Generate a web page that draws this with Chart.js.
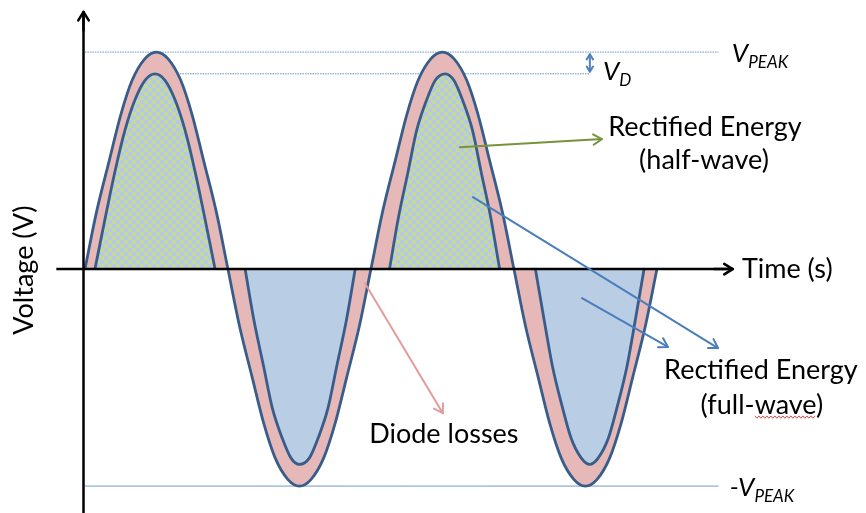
<!DOCTYPE html>
<html lang="en">
<head>
<meta charset="UTF-8">
<title>Half-wave and full-wave rectification</title>
<script src="https://cdn.jsdelivr.net/npm/chart.js@4.4.0/dist/chart.umd.min.js"></script>
<style>
  body { margin: 0; background: #fff; }
</style>
</head>
<body>
<canvas id="myChart" width="866" height="513"></canvas>
<script>
// time in half-periods, voltage as a fraction of V_PEAK
const outerTime = [0, 0.08, 0.17, 0.25, 0.33, 0.42, 0.5, 0.58, 0.67, 0.75, 0.83, 0.92,
  1, 1.08, 1.17, 1.25, 1.33, 1.42, 1.5, 1.58, 1.67, 1.75, 1.83, 1.92,
  2, 2.08, 2.17, 2.25, 2.33, 2.42, 2.5, 2.58, 2.67, 2.75, 2.83, 2.92,
  3, 3.08, 3.17, 3.25, 3.33, 3.42, 3.5, 3.58, 3.67, 3.75, 3.83, 3.92, 4];
const outerVolt = [0, 0.26, 0.5, 0.71, 0.87, 0.97, 1, 0.97, 0.87, 0.71, 0.5, 0.26,
  0, -0.26, -0.5, -0.71, -0.87, -0.97, -1, -0.97, -0.87, -0.71, -0.5, -0.26,
  0, 0.26, 0.5, 0.71, 0.87, 0.97, 1, 0.97, 0.87, 0.71, 0.5, 0.26,
  0, -0.26, -0.5, -0.71, -0.87, -0.97, -1, -0.97, -0.87, -0.71, -0.5, -0.26, 0];

// rectified pulses (after the diode drop)
const pos1Time = [0.07, 0.14, 0.21, 0.28, 0.35, 0.42, 0.49, 0.56, 0.63, 0.70, 0.77, 0.84, 0.91];
const neg1Time = [1.12, 1.18, 1.25, 1.31, 1.38, 1.44, 1.50, 1.57, 1.63, 1.70, 1.76, 1.83, 1.89];
const pos2Time = [2.13, 2.19, 2.26, 2.32, 2.39, 2.45, 2.52, 2.58, 2.64, 2.71, 2.77, 2.84, 2.90];
const neg2Time = [3.15, 3.21, 3.27, 3.34, 3.40, 3.47, 3.53, 3.59, 3.66, 3.72, 3.79, 3.85, 3.91];
const posPulse = [0, 0.23, 0.45, 0.64, 0.78, 0.87, 0.90, 0.87, 0.78, 0.64, 0.45, 0.23, 0];
const negPulse = [0, -0.23, -0.45, -0.64, -0.78, -0.87, -0.90, -0.87, -0.78, -0.64, -0.45, -0.23, 0];

const vPeak = 1;
const vAfterDrop = 0.9;

const stroke = '#385d8a';
const pink = '#e6b9b8';
const lightBlue = '#b9cde5';

function pts(ts, vs) { return ts.map((t, i) => ({x: t, y: vs[i]})); }

// green with small blue dots, like the office fill
function dotPattern() {
  const c = document.createElement('canvas');
  c.width = 8; c.height = 8;
  const g = c.getContext('2d');
  g.fillStyle = '#c6d99c';
  g.fillRect(0, 0, 8, 8);
  g.fillStyle = '#b4c8e8';
  [[2, 2], [6, 6]].forEach(p => { g.beginPath(); g.arc(p[0], p[1], 2.2, 0, Math.PI * 2); g.fill(); });
  return g.createPattern(c, 'repeat');
}
const dots = dotPattern();

function pulse(ts, vs, fillStyle) {
  return { data: pts(ts, vs), borderColor: stroke, borderWidth: 2.8, backgroundColor: fillStyle,
    fill: 'origin', order: 1, cubicInterpolationMode: 'monotone' };
}

function head(ctx, x, y, ang, size) {
  ctx.beginPath();
  ctx.moveTo(x - size * Math.cos(ang - 0.55), y - size * Math.sin(ang - 0.55));
  ctx.lineTo(x, y);
  ctx.lineTo(x - size * Math.cos(ang + 0.55), y - size * Math.sin(ang + 0.55));
  ctx.stroke();
}
function arrow(ctx, x1, y1, x2, y2, color, w, size, both) {
  ctx.save();
  ctx.strokeStyle = color; ctx.lineWidth = w; ctx.lineCap = 'round'; ctx.lineJoin = 'round';
  ctx.beginPath(); ctx.moveTo(x1, y1); ctx.lineTo(x2, y2); ctx.stroke();
  const a = Math.atan2(y2 - y1, x2 - x1);
  head(ctx, x2, y2, a, size);
  if (both) head(ctx, x1, y1, a + Math.PI, size);
  ctx.restore();
}
function subLabel(ctx, pre, main, sub, x, y) {
  ctx.save();
  ctx.fillStyle = '#000';
  ctx.textAlign = 'left'; ctx.textBaseline = 'alphabetic';
  ctx.font = 'italic 26px Lato';
  const txt = pre + main;
  ctx.fillText(txt, x, y);
  const w = ctx.measureText(txt).width;
  ctx.font = 'italic 17px Lato';
  ctx.fillText(sub, x + w, y + 6);
  ctx.restore();
}

const overlay = {
  id: 'overlay',
  beforeDatasetsDraw(chart) {
    const {ctx, scales: {x, y}} = chart;
    ctx.save();
    ctx.strokeStyle = 'rgba(79,129,189,0.85)';
    ctx.lineWidth = 1;
    ctx.setLineDash([1.5, 1]);
    ctx.beginPath();
    ctx.moveTo(x.getPixelForValue(0), y.getPixelForValue(vPeak));
    ctx.lineTo(x.getPixelForValue(4.43), y.getPixelForValue(vPeak));
    ctx.moveTo(x.getPixelForValue(0.49), y.getPixelForValue(vAfterDrop));
    ctx.lineTo(x.getPixelForValue(3.53), y.getPixelForValue(vAfterDrop));
    ctx.stroke();
    ctx.setLineDash([]);
    ctx.strokeStyle = 'rgba(79,129,189,0.8)';
    ctx.beginPath();
    ctx.moveTo(x.getPixelForValue(0), y.getPixelForValue(-vPeak));
    ctx.lineTo(x.getPixelForValue(4.43), y.getPixelForValue(-vPeak));
    ctx.stroke();
    ctx.restore();
  },
  afterDatasetsDraw(chart) {
    const {ctx, scales: {x, y}} = chart;
    const X = v => x.getPixelForValue(v), Y = v => y.getPixelForValue(v);

    // axes
    ctx.save();
    ctx.strokeStyle = '#000'; ctx.lineWidth = 2.5;
    ctx.beginPath();
    ctx.moveTo(X(-0.2), Y(0)); ctx.lineTo(X(4.53), Y(0));
    ctx.moveTo(X(-0.01), Y(-1.13)); ctx.lineTo(X(-0.01), Y(1.185));
    ctx.stroke();
    ctx.restore();
    arrow(ctx, X(4.4), Y(0), X(4.53), Y(0), '#000', 2.5, 10, false);
    arrow(ctx, X(-0.01), Y(1.1), X(-0.01), Y(1.185), '#000', 2.5, 10, false);

    // pointers
    arrow(ctx, X(2.622), Y(0.562), X(3.615), Y(0.599), '#77933c', 2, 10, false);
    arrow(ctx, X(2.713), Y(0.332), X(4.427), Y(-0.364), '#4a7ebb', 2, 10, false);
    arrow(ctx, X(3.476), Y(-0.134), X(4.077), Y(-0.359), '#4a7ebb', 2, 10, false);
    arrow(ctx, X(1.958), Y(-0.065), X(2.503), Y(-0.664), '#e39c9c', 2, 10, false);
    arrow(ctx, X(3.531), Y(0.99), X(3.531), Y(0.91), '#4f81bd', 2, 6, true);

    // text
    ctx.save();
    ctx.fillStyle = '#000';
    ctx.font = '27px Lato';
    ctx.textAlign = 'center'; ctx.textBaseline = 'middle';
    ctx.fillText('Rectified Energy', X(4.336), Y(0.654));
    ctx.fillText('(half-wave)', X(4.329), Y(0.502));
    ctx.fillText('Rectified Energy', X(4.727), Y(-0.465));
    ctx.fillText('(full-wave)', X(4.734), Y(-0.627));
    ctx.fillText('Diode losses', X(2.510), Y(-0.760));
    ctx.textAlign = 'left';
    ctx.fillText('Time (s)', X(4.594), Y(0));
    ctx.translate(X(-0.427), Y(-0.005));
    ctx.rotate(-Math.PI / 2);
    ctx.textAlign = 'center';
    ctx.fillText('Voltage (V)', 0, 0);
    ctx.restore();

    // spell-check squiggle under "wave"
    ctx.save();
    ctx.strokeStyle = '#e04a4a'; ctx.lineWidth = 1;
    ctx.beginPath();
    const sx0 = X(4.685), sx1 = X(5.105), sy = Y(-0.682);
    for (let px = sx0, k = 0; px <= sx1; px += 2, k++) {
      const py = sy + (k % 2 ? 1.2 : -1.2);
      if (k === 0) ctx.moveTo(px, py); else ctx.lineTo(px, py);
    }
    ctx.stroke();
    ctx.restore();

    subLabel(ctx, '', 'V', 'PEAK', X(4.524), Y(0.954));
    subLabel(ctx, '', 'V', 'D', X(3.622), Y(0.871));
    subLabel(ctx, '-', 'V', 'PEAK', X(4.51), Y(-1.046));
  }
};

const ctx = document.getElementById('myChart').getContext('2d');
new Chart(ctx, {
  type: 'line',
  data: {
    datasets: [
      { data: pts(outerTime, outerVolt), borderColor: stroke, borderWidth: 2.8, backgroundColor: pink,
        fill: 'origin', order: 2, cubicInterpolationMode: 'monotone' },
      pulse(pos1Time, posPulse, dots),
      pulse(neg1Time, negPulse, lightBlue),
      pulse(pos2Time, posPulse, dots),
      pulse(neg2Time, negPulse, lightBlue)
    ]
  },
  options: {
    responsive: false,
    animation: false,
    layout: { padding: 0 },
    elements: { point: { radius: 0 } },
    plugins: { legend: { display: false }, tooltip: { enabled: false } },
    scales: {
      x: { type: 'linear', display: false, min: -0.594, max: 5.462 },
      y: { type: 'linear', display: false, min: -1.124, max: 1.240 }
    }
  },
  plugins: [overlay]
});
</script>
</body>
</html>
